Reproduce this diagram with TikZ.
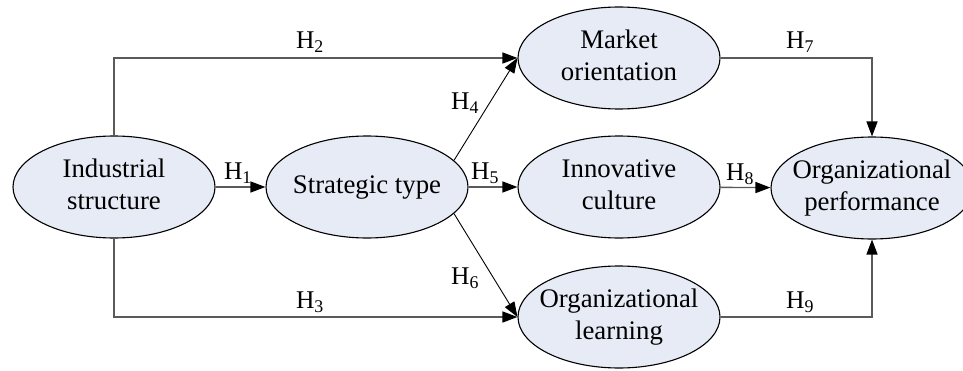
\documentclass[tikz,border=0pt]{standalone}
\usepackage{fontspec}
\setmainfont{Liberation Serif}
\usetikzlibrary{shapes.geometric,arrows.meta}

% centred multi-line text that does not widen the ellipse
\newcommand\etext[1]{\makebox[0pt]{\begin{tabular}{@{}c@{}}#1\end{tabular}}}
\newcommand\hyp[1]{H\textsubscript{#1}}

\definecolor{bubfill}{RGB}{230,235,245}
\definecolor{linkgray}{RGB}{90,90,90}

\tikzset{
  bub/.style={ellipse, draw=black, line width=1.1pt, fill=bubfill,
    minimum width=202pt, minimum height=102pt, inner sep=0pt,
    font=\fontsize{26.8}{31.5}\selectfont},
  hlab/.style={inner sep=0pt, font=\fontsize{25.5}{28}\selectfont},
  tip/.style={-{Triangle[length=15pt,width=11pt,color=black]}},
  link/.style={tip, draw=linkgray, line width=1.4pt},
  diag/.style={tip, draw=black, line width=0.9pt},
}

\begin{document}
\begin{tikzpicture}[x=1pt,y=1pt]
  \useasboundingbox (0,0) rectangle (963,370);

  % constructs
  \node[bub] (is) at (114,183) {\etext{Industrial\\structure}};
  \node[bub] (st) at (367,183) {\etext{Strategic type}};
  \node[bub] (mo) at (619,312) {\etext{Market\\orientation}};
  \node[bub] (ic) at (619,183) {\etext{Innovative\\culture}};
  \node[bub] (ol) at (619,53)  {\etext{Organizational\\learning}};
  \node[bub] (op) at (872,182) {\etext{Organizational\\performance}};

  % hypothesised paths
  \draw[link] (is) -- (st);
  \draw[link] (is.north) |- (mo.west);
  \draw[link] (is.south) |- (ol.west);
  \draw[diag] (st.17) -- (mo.west);
  \draw[link] (st) -- (ic);
  \draw[diag] (st.-17) -- (ol.west);
  \draw[link] (mo.east) -| (op.north);
  \draw[link] (ic) -- (op);
  \draw[link] (ol.east) -| (op.south);

  % path labels
  \node[hlab] (h1) at (238,197) {\hyp{1}};
  \node[hlab] (h2) at (310,328) {\hyp{2}};
  \node[hlab] (h3) at (310,68)  {\hyp{3}};
  \node[hlab] (h4) at (465,267) {\hyp{4}};
  \node[hlab] (h5) at (485,197) {\hyp{5}};
  \node[hlab] (h6) at (465,92)  {\hyp{6}};
  \node[hlab] (h7) at (800,328) {\hyp{7}};
  \node[hlab] (h8) at (740,196) {\hyp{8}};
  \node[hlab] (h9) at (800,68)  {\hyp{9}};
\end{tikzpicture}
\end{document}
